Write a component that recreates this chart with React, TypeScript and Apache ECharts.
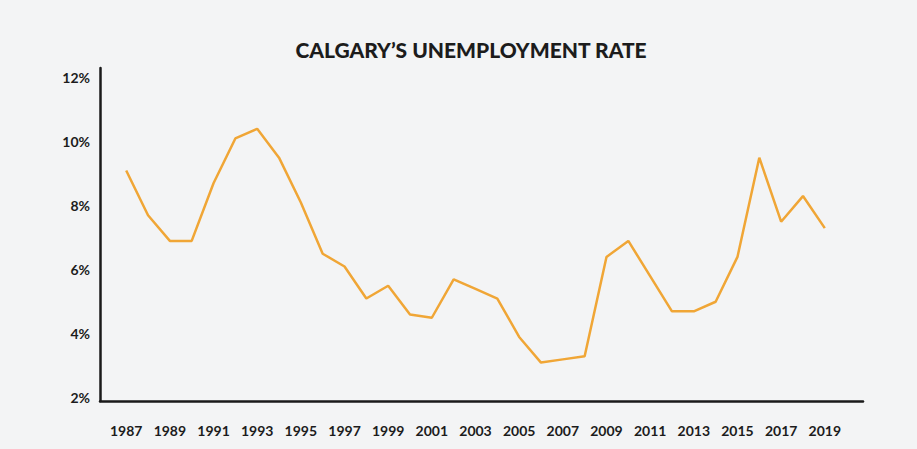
import React, { useEffect, useRef } from "react";
import * as echarts from "echarts";

const years: number[] = [
  1987, 1988, 1989, 1990, 1991, 1992, 1993, 1994, 1995, 1996, 1997,
  1998, 1999, 2000, 2001, 2002, 2003, 2004, 2005, 2006, 2007, 2008,
  2009, 2010, 2011, 2012, 2013, 2014, 2015, 2016, 2017, 2018, 2019,
];
const unemploymentRate: number[] = [
  9.1, 7.7, 6.9, 6.9, 8.7, 10.1, 10.4, 9.5, 8.1, 6.5, 6.1,
  5.1, 5.5, 4.6, 4.5, 5.7, 5.4, 5.1, 3.9, 3.1, 3.2, 3.3,
  6.4, 6.9, 5.8, 4.7, 4.7, 5.0, 6.4, 9.5, 7.5, 8.3, 7.3,
];
const xTickYears: number[] = [
  1987, 1989, 1991, 1993, 1995, 1997, 1999, 2001, 2003, 2005, 2007,
  2009, 2011, 2013, 2015, 2017, 2019,
];
const yTickValues: number[] = [2, 4, 6, 8, 10, 12];
const title = "CALGARY’S UNEMPLOYMENT RATE";

export default function App() {
  const ref = useRef<HTMLDivElement>(null);
  useEffect(() => {
    if (!ref.current) return;
    const chart = echarts.init(ref.current, null, { renderer: "svg" });
    const fontFamily = "Lato, 'Open Sans', sans-serif";
    chart.setOption({
      animation: false,
      backgroundColor: "#f3f4f5",
      title: {
        text: title,
        left: 466,
        top: 34,
        textAlign: "center",
        textStyle: {
          fontFamily,
          fontWeight: 900,
          fontSize: 21,
          color: "#1c1c1c",
        },
      },
      grid: { left: 100, right: 54, top: 68, bottom: 48, containLabel: false },
      xAxis: {
        type: "value",
        min: 1985.8,
        max: 2020.75,
        axisLine: { show: true, lineStyle: { color: "#1a1a1a", width: 2.5 } },
        axisTick: { show: false },
        splitLine: { show: false },
        axisLabel: {
          customValues: xTickYears,
          formatter: (v: number) => String(v),
          margin: 22,
          fontFamily,
          fontWeight: 700,
          fontSize: 14,
          color: "#1c1c1c",
        },
      },
      yAxis: {
        type: "value",
        min: 1.9,
        max: 12.3,
        axisLine: { show: true, lineStyle: { color: "#1a1a1a", width: 2.5 } },
        axisTick: { show: false },
        splitLine: { show: false },
        axisLabel: {
          customValues: yTickValues,
          formatter: (v: number) => `${v}%`,
          margin: 10,
          fontFamily,
          fontWeight: 700,
          fontSize: 14,
          color: "#1c1c1c",
        },
      },
      series: [
        {
          type: "line",
          data: years.map((y, i) => [y, unemploymentRate[i]]),
          showSymbol: false,
          lineStyle: { color: "#f0a636", width: 2.5 },
          itemStyle: { color: "#f0a636" },
        },
      ],
    });
    return () => chart.dispose();
  }, []);
  return (
    <div
      ref={ref}
      style={{ position: "absolute", left: 0, top: 0, width: 917, height: 449 }}
    />
  );
}
